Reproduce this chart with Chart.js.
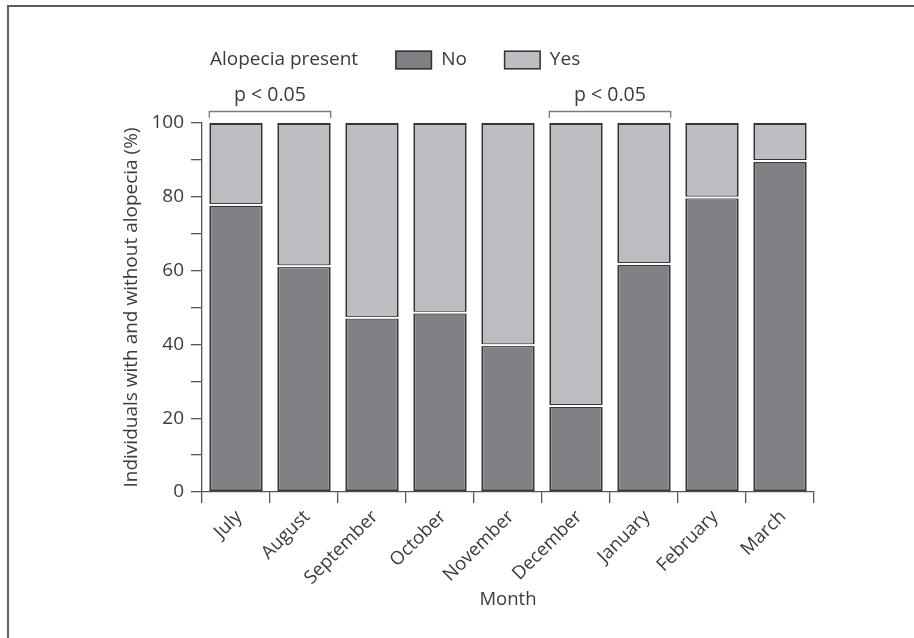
<!DOCTYPE html>
<html>
<head>
<meta charset="utf-8">
<script src="https://cdn.jsdelivr.net/npm/chart.js@4.4.1/dist/chart.umd.min.js"></script>
<style>
  html, body { margin: 0; padding: 0; background: #fff; width: 914px; height: 638px; overflow: hidden; }
  #frame { position: absolute; left: 7px; top: 5px; right: 0; bottom: 0;
           border-left: 2px solid #5e5e5e; border-top: 2px solid #5e5e5e; }
  #wrap { position: absolute; left: 0; top: 0; width: 914px; height: 638px; }
</style>
</head>
<body>
<div id="frame"></div>
<div id="wrap"><canvas id="c" width="914" height="638"></canvas></div>
<script>
// Share of individuals with / without alopecia per month (%)
const months = ['July', 'August', 'September', 'October', 'November', 'December', 'January', 'February', 'March'];
const noAlopecia  = [77.8, 61.2, 47.2, 48.6, 39.8, 23.3, 61.8, 79.8, 89.7];
const yesAlopecia = [22.2, 38.8, 52.8, 51.4, 60.2, 76.7, 38.2, 20.2, 10.3];
const yTickLabels = [0, 20, 40, 60, 80, 100];

// Significance brackets: pairs of month indexes
const brackets = [
  { from: 0, to: 1, label: 'p < 0.05' },
  { from: 5, to: 6, label: 'p < 0.05' }
];
const legendTitle = 'Alopecia present';

const FONT = "'Open Sans', 'Noto Sans', sans-serif";
const TEXT = '#3b3b3b';
const AXIS = '#555555';
const NO_FILL = '#808185';
const YES_FILL = '#bcbdc1';
const EDGE = '#343434';

// White seam between the two stacked segments of each bar
const segmentSeam = {
  id: 'segmentSeam',
  afterDatasetsDraw(chart) {
    const ctx = chart.ctx;
    const meta = chart.getDatasetMeta(0);
    ctx.save();
    ctx.fillStyle = '#ffffff';
    meta.data.forEach(el => {
      const p = el.getProps(['x', 'y', 'width'], true);
      ctx.fillRect(p.x - p.width / 2 - 1, p.y - 1, p.width + 2, 2);
    });
    ctx.restore();
  }
};

// Significance brackets above the bars
const sigBrackets = {
  id: 'sigBrackets',
  afterDraw(chart) {
    const ctx = chart.ctx;
    const meta = chart.getDatasetMeta(1);
    const top = chart.scales.y.getPixelForValue(100);
    ctx.save();
    ctx.strokeStyle = '#7a7a7a';
    ctx.lineWidth = 1.3;
    ctx.fillStyle = TEXT;
    ctx.font = '19.5px ' + FONT;
    ctx.textAlign = 'center';
    ctx.textBaseline = 'middle';
    brackets.forEach(b => {
      const a = meta.data[b.from], c = meta.data[b.to];
      const x1 = a.x - a.width / 2, x2 = c.x + c.width / 2;
      const yb = top - 11.5;
      ctx.beginPath();
      ctx.moveTo(x1, top - 5);
      ctx.lineTo(x1, yb);
      ctx.lineTo(x2, yb);
      ctx.lineTo(x2, top - 5);
      ctx.stroke();
      ctx.fillText(b.label, (x1 + x2) / 2, top - 28);
    });
    ctx.restore();
  }
};

// Inline legend: title followed by swatches
const inlineLegend = {
  id: 'inlineLegend',
  afterDraw(chart) {
    const ctx = chart.ctx;
    const ds = chart.data.datasets;
    const cy = 60;
    let x = chart.chartArea.left + 8;
    ctx.save();
    ctx.font = '19px ' + FONT;
    ctx.fillStyle = TEXT;
    ctx.textAlign = 'left';
    ctx.textBaseline = 'middle';
    ctx.fillText(legendTitle, x, cy);
    x += ctx.measureText(legendTitle).width + 37;
    ds.forEach(d => {
      ctx.fillStyle = d.backgroundColor;
      ctx.fillRect(x, cy - 9.5, 37, 19);
      ctx.strokeStyle = EDGE;
      ctx.lineWidth = 1.5;
      ctx.strokeRect(x + 0.75, cy - 8.75, 35.5, 17.5);
      x += 37 + 9;
      ctx.fillStyle = TEXT;
      ctx.fillText(d.label, x, cy);
      x += ctx.measureText(d.label).width + 37;
    });
    ctx.restore();
  }
};

const barStyle = {
  borderColor: EDGE,
  borderWidth: 2,
  borderSkipped: false,
  barPercentage: 0.785,
  categoryPercentage: 1
};

new Chart(document.getElementById('c'), {
  type: 'bar',
  data: {
    labels: months,
    datasets: [
      Object.assign({ label: 'No', data: noAlopecia, backgroundColor: NO_FILL }, barStyle),
      Object.assign({ label: 'Yes', data: yesAlopecia, backgroundColor: YES_FILL }, barStyle)
    ]
  },
  options: {
    responsive: false,
    animation: false,
    devicePixelRatio: 1,
    layout: { padding: { top: 123, left: 0, right: 100, bottom: 0 } },
    plugins: { legend: { display: false }, tooltip: { enabled: false } },
    scales: {
      x: {
        stacked: true,
        grid: { drawOnChartArea: false, offset: true, tickLength: 11, color: AXIS, lineWidth: 1.3 },
        border: { color: AXIS, width: 1.3 },
        ticks: { minRotation: 45, maxRotation: 45, autoSkip: false, padding: 3, labelOffset: 3,
                 font: { family: FONT, size: 18.5 }, color: TEXT },
        title: { display: true, text: 'Month', color: TEXT,
                 font: { family: FONT, size: 18.5 }, padding: { top: 0, bottom: 27 } },
        afterFit(scale) { scale.height = 146; }
      },
      y: {
        stacked: true,
        min: 0,
        max: 100,
        grid: { drawOnChartArea: false, tickLength: 11, color: AXIS, lineWidth: 1.3 },
        border: { color: AXIS, width: 1.3 },
        ticks: { stepSize: 10, padding: 7, autoSkip: false, color: TEXT,
                 font: { family: FONT, size: 19 },
                 callback: v => (yTickLabels.includes(v) ? String(v) : '') },
        title: { display: true, text: 'Individuals with and without alopecia (%)', color: TEXT,
                 font: { family: FONT, size: 19 }, padding: { top: 120, bottom: 0 } },
        afterFit(scale) { scale.width = 202; }
      }
    }
  },
  plugins: [segmentSeam, sigBrackets, inlineLegend]
});
</script>
</body>
</html>
